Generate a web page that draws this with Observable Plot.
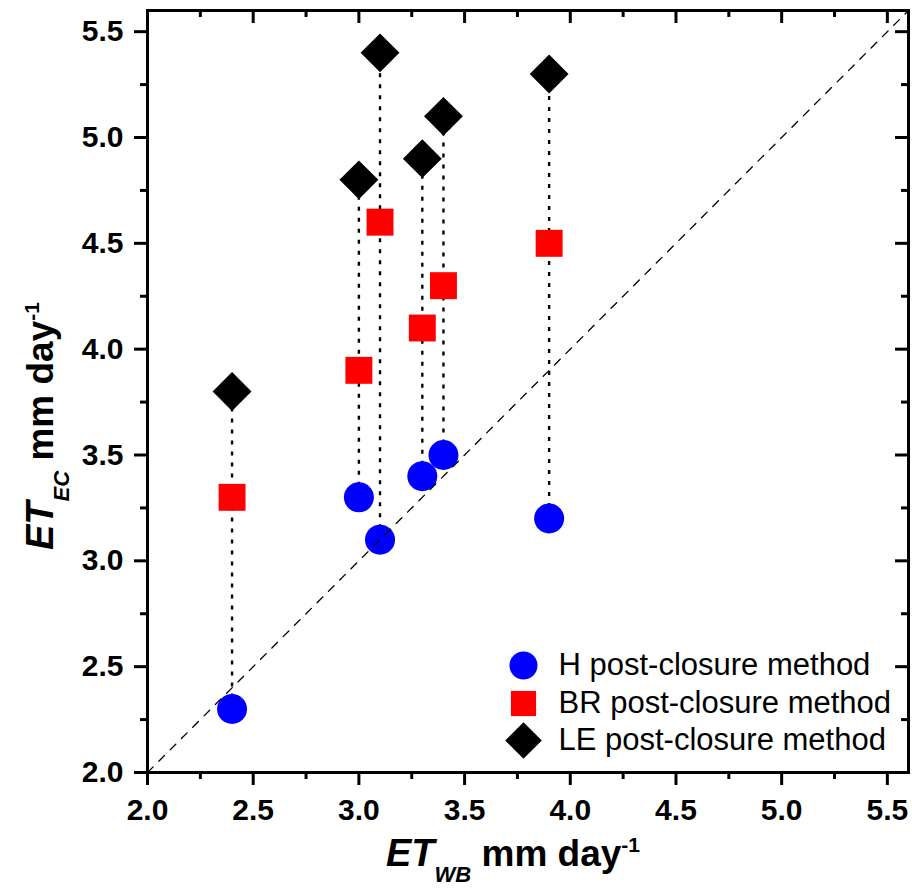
<!DOCTYPE html>
<html><head><meta charset="utf-8">
<script src="https://cdn.jsdelivr.net/npm/d3@7"></script>
<script src="https://cdn.jsdelivr.net/npm/@observablehq/plot@0.6"></script>
<style>body{margin:0;background:#fff}</style>
</head><body><div id="chart"></div>
<script>
const etWB = [2.4, 3.0, 3.1, 3.3, 3.4, 3.9];
const hValues = [2.3, 3.3, 3.1, 3.4, 3.5, 3.2];
const brValues = [3.3, 3.9, 4.6, 4.1, 4.3, 4.5];
const leValues = [3.8, 4.8, 5.4, 4.9, 5.1, 5.3];
const seriesNames = ["H post-closure method", "BR post-closure method", "LE post-closure method"];
const seriesColors = ["#0000ff", "#ff0000", "#000000"];
const majorTicks = [2.0, 2.5, 3.0, 3.5, 4.0, 4.5, 5.0, 5.5];
const minorTicks = [2.25, 2.75, 3.25, 3.75, 4.25, 4.75, 5.25];
const axisDomain = [2.0, 5.6];

const W = 912, H = 888, mL = 147, mR = 4, mT = 10, mB = 116;
const innerW = W - mL - mR, innerH = H - mT - mB;
const idx = d3.range(etWB.length);
const FONT = "Liberation Sans, Arial, Helvetica, sans-serif";

const pts = (vals) => idx.map(i => ({x: etWB[i], y: vals[i]}));

const chart = Plot.plot({
  width: W, height: H,
  marginLeft: mL, marginRight: mR, marginTop: mT, marginBottom: mB,
  style: {fontFamily: FONT, background: "white", color: "black"},
  x: {domain: axisDomain, axis: null},
  y: {domain: axisDomain, axis: null},
  marks: [
    // bottom axis (outward)
    Plot.axisX(majorTicks, {anchor: "bottom", tickSize: 13, tickPadding: 13, strokeWidth: 3,
      fontSize: 30, fontWeight: "bold", tickFormat: d => d.toFixed(1), label: null}),
    Plot.axisX(minorTicks, {anchor: "bottom", tickSize: 7, strokeWidth: 3, text: null, label: null}),
    // left axis (outward)
    Plot.axisY(majorTicks, {anchor: "left", tickSize: 13, tickPadding: 11, strokeWidth: 3,
      fontSize: 30, fontWeight: "bold", tickFormat: d => d.toFixed(1), label: null}),
    Plot.axisY(minorTicks, {anchor: "left", tickSize: 7, strokeWidth: 3, text: null, label: null}),
    // top axis (inward)
    Plot.tickX(majorTicks, {x: d => d, insetBottom: innerH - 13, strokeWidth: 3}),
    Plot.tickX(minorTicks, {x: d => d, insetBottom: innerH - 7, strokeWidth: 3}),
    // right axis (inward)
    Plot.tickY(majorTicks, {y: d => d, insetLeft: innerW - 13, strokeWidth: 3}),
    Plot.tickY(minorTicks, {y: d => d, insetLeft: innerW - 7, strokeWidth: 3}),
    Plot.frame({strokeWidth: 3}),
    // dotted connectors
    Plot.ruleX(idx, {x: i => etWB[i], y1: i => hValues[i], y2: i => leValues[i],
      stroke: "black", strokeWidth: 2.4, strokeDasharray: "4,7"}),
    // markers
    Plot.dot(pts(hValues), {x: "x", y: "y", symbol: "circle", r: 15, fill: seriesColors[0]}),
    Plot.dot(pts(brValues), {x: "x", y: "y", symbol: "square", r: 15.2, fill: seriesColors[1]}),
    Plot.dot(pts(leValues), {x: "x", y: "y", symbol: "diamond2", r: 17.5, fill: seriesColors[2]}),
    // 1:1 line
    Plot.line(axisDomain.map(v => ({v})), {x: "v", y: "v", stroke: "black", strokeWidth: 1.3, strokeDasharray: "8,8"}),
    // legend
    Plot.dot([seriesNames[0]], {frameAnchor: "bottom-right", dx: -385, dy: -107, symbol: "circle", r: 14, fill: seriesColors[0]}),
    Plot.dot([seriesNames[1]], {frameAnchor: "bottom-right", dx: -385, dy: -69, symbol: "square", r: 14.2, fill: seriesColors[1]}),
    Plot.dot([seriesNames[2]], {frameAnchor: "bottom-right", dx: -385, dy: -32, symbol: "diamond2", r: 16.5, fill: seriesColors[2]}),
    Plot.text([seriesNames[0]], {text: d => d, frameAnchor: "bottom-right", dx: -350, dy: -107, textAnchor: "start", lineAnchor: "middle", fontSize: 31, fill: "black"}),
    Plot.text([seriesNames[1]], {text: d => d, frameAnchor: "bottom-right", dx: -350, dy: -69, textAnchor: "start", lineAnchor: "middle", fontSize: 31, fill: "black"}),
    Plot.text([seriesNames[2]], {text: d => d, frameAnchor: "bottom-right", dx: -350, dy: -32, textAnchor: "start", lineAnchor: "middle", fontSize: 31, fill: "black"})
  ]
});

// axis titles with sub/superscripts
const svg = d3.select(chart);
function title(g, sub) {
  const t = g.append("text").attr("font-family", FONT).attr("font-weight", "bold")
    .attr("fill", "black").attr("text-anchor", "start");
  t.append("tspan").attr("font-size", 38).attr("font-style", "italic").text("ET");
  t.append("tspan").attr("font-size", 22).attr("font-style", "italic").attr("dy", 16).text(sub);
  t.append("tspan").attr("font-size", 37).attr("dy", -16).text(" mm day");
  t.append("tspan").attr("font-size", 21).attr("dy", -14).text("-1");
}
title(svg.append("g").attr("transform", "translate(386,866)"), "WB");
title(svg.append("g").attr("transform", "translate(53,550) rotate(-90)"), "EC");

document.getElementById("chart").appendChild(chart);
</script>
</body></html>
